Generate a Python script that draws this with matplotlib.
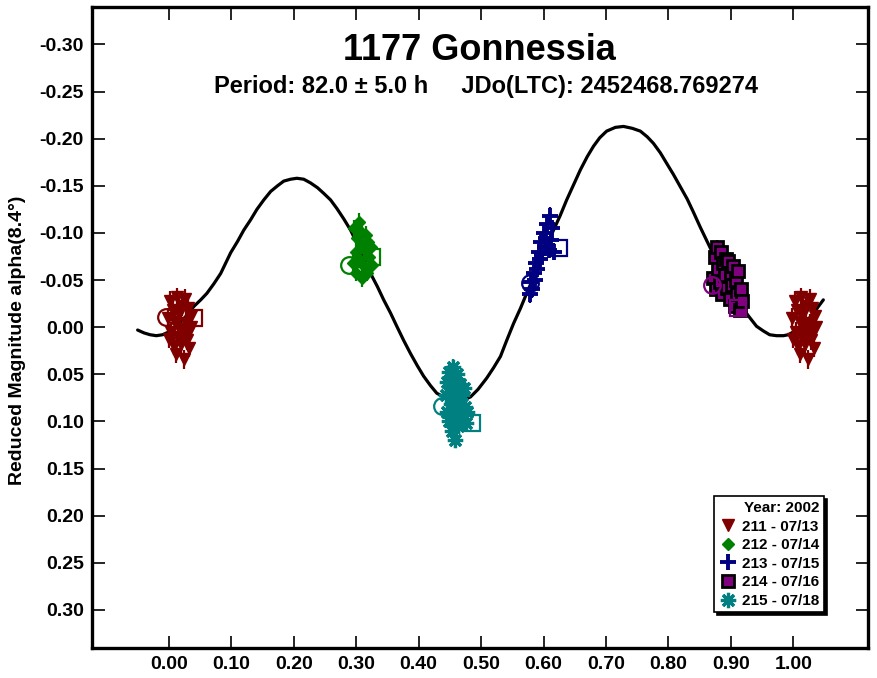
import matplotlib
matplotlib.use("Agg")
import matplotlib.pyplot as plt
import numpy as np

plt.rcParams['font.family'] = ['Liberation Sans', 'DejaVu Sans']
plt.rcParams['font.weight'] = 'bold'

# ---- Data ----
title = "1177 Gonnessia"
subtitle = "Period: 82.0 \u00b1 5.0 h     JDo(LTC): 2452468.769274"
ylabel = "Reduced Magnitude alpha(8.4\u00b0)"
legend_title = "Year: 2002"

x_ticks = [0.0, 0.1, 0.2, 0.3, 0.4, 0.5, 0.6, 0.7, 0.8, 0.9, 1.0]
y_ticks = [-0.30, -0.25, -0.20, -0.15, -0.10, -0.05, 0.00, 0.05, 0.10, 0.15, 0.20, 0.25, 0.30]

# Fourier fit curve (phase, reduced magnitude)
curve_phase = [-0.050, -0.040, -0.030, -0.020, -0.010, 0.000, 0.015, 0.028, 0.040, 0.051,
               0.061, 0.072, 0.083, 0.099, 0.110, 0.120, 0.131, 0.141, 0.152, 0.163,
               0.174, 0.184, 0.195, 0.205, 0.216, 0.227, 0.238, 0.248, 0.259, 0.269,
               0.280, 0.291, 0.307, 0.323, 0.334, 0.344, 0.355, 0.365, 0.376, 0.387,
               0.398, 0.408, 0.419, 0.429, 0.443, 0.452, 0.462, 0.472, 0.483, 0.495,
               0.509, 0.520, 0.531, 0.541, 0.552, 0.563, 0.573, 0.584, 0.595, 0.605,
               0.616, 0.627, 0.637, 0.648, 0.659, 0.670, 0.680, 0.690, 0.701, 0.715,
               0.728, 0.742, 0.755, 0.766, 0.776, 0.787, 0.797, 0.808, 0.819, 0.830,
               0.840, 0.851, 0.867, 0.880, 0.895, 0.910, 0.928, 0.941, 0.952, 0.962,
               0.973, 0.984, 0.992, 1.000, 1.015, 1.030, 1.048]
curve_mag = [0.003, 0.006, 0.008, 0.009, 0.008, 0.005, -0.003, -0.012, -0.022, -0.029,
             -0.036, -0.046, -0.057, -0.079, -0.091, -0.103, -0.114, -0.125, -0.135, -0.144,
             -0.150, -0.155, -0.157, -0.158, -0.157, -0.153, -0.148, -0.142, -0.135, -0.126,
             -0.115, -0.103, -0.081, -0.057, -0.043, -0.029, -0.015, -0.001, 0.014, 0.028,
             0.041, 0.052, 0.062, 0.070, 0.075, 0.077, 0.078, 0.077, 0.074, 0.066,
             0.054, 0.043, 0.031, 0.014, -0.004, -0.020, -0.036, -0.053, -0.071, -0.087,
             -0.103, -0.119, -0.135, -0.151, -0.167, -0.181, -0.192, -0.201, -0.208, -0.212,
             -0.213, -0.211, -0.208, -0.202, -0.195, -0.185, -0.174, -0.162, -0.149, -0.136,
             -0.122, -0.106, -0.084, -0.066, -0.047, -0.029, -0.012, -0.001, 0.004, 0.008,
             0.009, 0.009, 0.008, 0.005, -0.002, -0.013, -0.029]

labels = ["211 - 07/13", "212 - 07/14", "213 - 07/15", "214 - 07/16", "215 - 07/18"]
colors = ["#800000", "#008000", "#000080", "#800080", "#008080"]

s211_phase = [-0.002, 0.000, 0.002, 0.004, 0.006, 0.008, 0.010, 0.011, 0.013, 0.014,
              0.016, 0.018, 0.019, 0.021, 0.022, 0.024, 0.026, 0.027, 0.029, 0.030,
              0.032, 0.033, 0.035, 0.036]
s211_mag = [-0.010, 0.012, -0.028, 0.005, -0.018, 0.020, -0.006, 0.028, -0.032, 0.010,
            -0.014, 0.002, 0.018, -0.022, 0.008, 0.034, -0.030, -0.004, 0.014, -0.020,
            0.004, 0.022, -0.012, 0.000]

s212_phase = [0.295, 0.297, 0.299, 0.300, 0.302, 0.304, 0.305, 0.307, 0.309, 0.310,
              0.312, 0.314, 0.315, 0.317, 0.319, 0.321, 0.323, 0.325]
s212_mag = [-0.068, -0.105, -0.080, -0.058, -0.095, -0.112, -0.072, -0.088, -0.052, -0.100,
            -0.065, -0.082, -0.098, -0.058, -0.090, -0.075, -0.085, -0.066]

s213_phase = [0.578, 0.580, 0.582, 0.584, 0.586, 0.588, 0.590, 0.592, 0.594, 0.596,
              0.598, 0.600, 0.602, 0.604, 0.606, 0.608, 0.610, 0.612, 0.614, 0.617]
s213_mag = [-0.035, -0.048, -0.040, -0.058, -0.050, -0.068, -0.062, -0.080, -0.072, -0.090,
            -0.078, -0.100, -0.085, -0.095, -0.110, -0.082, -0.118, -0.092, -0.105, -0.080]

s214_phase = [0.872, 0.874, 0.876, 0.878, 0.880, 0.882, 0.884, 0.886, 0.888, 0.890,
              0.892, 0.894, 0.896, 0.898, 0.900, 0.902, 0.904, 0.906, 0.908, 0.910,
              0.912, 0.914, 0.916, 0.918]
s214_mag = [-0.052, -0.075, -0.040, -0.085, -0.062, -0.048, -0.080, -0.035, -0.068, -0.055,
            -0.072, -0.042, -0.070, -0.030, -0.058, -0.045, -0.065, -0.022, -0.050, -0.035,
            -0.060, -0.018, -0.040, -0.028]

s215_phase = [0.443, 0.445, 0.446, 0.448, 0.449, 0.451, 0.452, 0.454, 0.455, 0.456,
              0.457, 0.458, 0.459, 0.460, 0.461, 0.462, 0.463, 0.464, 0.466, 0.467,
              0.469, 0.470, 0.472, 0.474, 0.476, 0.478]
s215_mag = [0.072, 0.090, 0.058, 0.100, 0.048, 0.082, 0.065, 0.110, 0.042, 0.075,
            0.095, 0.055, 0.120, 0.068, 0.088, 0.050, 0.105, 0.078, 0.060, 0.092,
            0.072, 0.098, 0.065, 0.085, 0.102, 0.090]

session_errors = [0.010, 0.009, 0.009, 0.007, 0.008]

# first (circle) and last (square) point of each session
first_phase = [-0.005, 0.288, 0.579, 0.869, 0.437]
first_mag = [-0.011, -0.066, -0.047, -0.045, 0.084]
last_phase = [0.041, 0.326, 0.624, 0.912, 0.485]
last_mag = [-0.010, -0.075, -0.084, -0.020, 0.102]

phases = [s211_phase, s212_phase, s213_phase, s214_phase, s215_phase]
mags = [s211_mag, s212_mag, s213_mag, s214_mag, s215_mag]

# ---- Styles ----
markers = ["v", "D", "+", "s", (8, 2, 0)]
msizes = [9, 6.5, 12, 8, 11]
mfc = colors[:]
mec = ["#800000", "#008000", "#000080", "black", "#008080"]
mews = [1.0, 1.0, 2.8, 2.0, 2.3]

fig = plt.figure(figsize=(8.78, 6.78), dpi=100)
ax = fig.add_axes([0.1051, 0.0447, 0.8835, 0.9454])

ax.plot(curve_phase, curve_mag, color="black", lw=2.3, zorder=2,
        solid_joinstyle="round", solid_capstyle="round")

handles = []
for i in range(5):
    p = np.array(phases[i])
    m = np.array(mags[i])
    # wrap points near phase 0 past 1.0
    wrap = p < 0.12
    pp = np.concatenate([p, p[wrap] + 1.0])
    mm = np.concatenate([m, m[wrap]])
    ax.errorbar(pp, mm, yerr=session_errors[i], fmt="none", ecolor=colors[i],
                elinewidth=1.6, capsize=0, zorder=3)
    h, = ax.plot(pp, mm, linestyle="none", marker=markers[i], ms=msizes[i],
                 mfc=mfc[i], mec=mec[i], mew=mews[i], color=colors[i], zorder=4,
                 label=labels[i])
    handles.append(h)
    ax.plot(first_phase[i], first_mag[i], linestyle="none", marker="o", ms=12,
            mfc="none", mec=colors[i], mew=1.6, zorder=5)
    ax.plot(last_phase[i], last_mag[i], linestyle="none", marker="s", ms=12,
            mfc="none", mec=colors[i], mew=1.6, zorder=5)

ax.set_xlim(-0.1226, 1.1195)
ax.set_ylim(0.340, -0.340)
ax.set_xticks(x_ticks)
ax.set_xticklabels([f"{v:.2f}" for v in x_ticks])
ax.set_yticks(y_ticks)
ax.set_yticklabels([f"{v:.2f}" for v in y_ticks])
ax.tick_params(direction="in", length=9, width=1.2, top=True, right=True,
               labelsize=14, pad=6)
for lab in ax.get_xticklabels() + ax.get_yticklabels():
    lab.set_fontweight("bold")
for s in ax.spines.values():
    s.set_linewidth(2.4)

fig.text(0.0205, 0.4985, ylabel, rotation=90, ha="center", va="center",
         fontsize=14, fontweight="bold")
fig.text(0.5456, 0.926, title, ha="center", va="center", fontsize=26, fontweight="bold")
fig.text(0.5535, 0.8717, subtitle, ha="center", va="center", fontsize=17, fontweight="bold")

leg = ax.legend(handles=handles, loc="lower left", bbox_to_anchor=(0.802, 0.055),
                title=legend_title, fontsize=11, title_fontproperties={"weight": "bold", "size": 11},
                frameon=True, fancybox=False, shadow={"color": "black", "alpha": 1.0},
                edgecolor="black", framealpha=1, borderpad=0.3, handletextpad=0.3,
                labelspacing=0.3, handlelength=1.2, borderaxespad=0)
leg.get_frame().set_linewidth(1.2)
leg._legend_box.align = "right"
for t in leg.get_texts():
    t.set_fontweight("bold")

fig.savefig("out.png", dpi=100)
